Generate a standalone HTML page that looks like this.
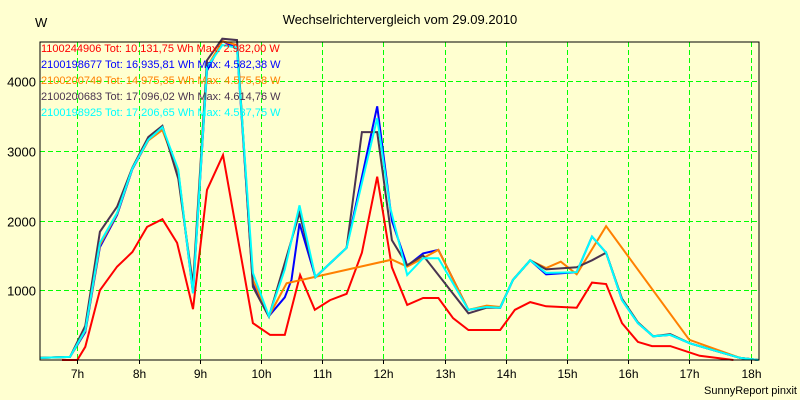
<!DOCTYPE html>
<html><head><meta charset="utf-8"><style>
html,body{margin:0;padding:0;background:#ffffd0;}
svg{display:block;font-family:"Liberation Sans",sans-serif;}
</style></head><body>
<svg id="chart" width="800" height="400" viewBox="0 0 800 400">
<rect x="0" y="0" width="800" height="400" fill="#ffffd0"/>
<text x="400" y="24" font-size="13" text-anchor="middle" fill="#000">Wechselrichtervergleich vom 29.09.2010</text>
<text x="35" y="27" font-size="13" fill="#000">W</text>
<text x="797" y="394" font-size="11" text-anchor="end" fill="#000">SunnyReport pinxit</text>
<g id="grid" shape-rendering="crispEdges"></g>
<g id="series"></g>
<rect x="40" y="42" width="719" height="318" fill="none" stroke="#000" stroke-width="1" shape-rendering="crispEdges"/>
<g id="axes"></g>
<g id="legend"></g>
</svg>
<script>
const hourTicks = [7,8,9,10,11,12,13,14,15,16,17,18];
const wattTicks = [1000,2000,3000,4000];
const seriesNames = ["1100244906","2100198677","2100200749","2100200683","2100198925"];
const legendLabels = [
 "1100244906 Tot: 10.131,75 Wh Max: 2.982,00 W",
 "2100198677 Tot: 16.935,81 Wh Max: 4.582,38 W",
 "2100200749 Tot: 14.975,35 Wh Max: 4.575,58 W",
 "2100200683 Tot: 17.096,02 Wh Max: 4.614,76 W",
 "2100198925 Tot: 17.206,65 Wh Max: 4.537,75 W"];
const seriesColors = ["#ff0000","#0000ff","#ff8000","#4a3450","#00ffff"];

const redT = [6.75,7.0,7.13,7.37,7.65,7.9,8.14,8.39,8.63,8.89,9.12,9.38,9.87,10.15,10.39,10.64,10.88,11.13,11.4,11.65,11.9,12.14,12.39,12.65,12.9,13.14,13.39,13.91,14.15,14.4,14.66,15.16,15.41,15.64,15.9,16.16,16.39,16.69,17.17,17.72];
const redW = [0,0,190,1000,1340,1550,1910,2020,1680,730,2440,2940,530,360,360,1220,720,860,950,1540,2630,1330,790,890,890,600,430,430,720,830,770,750,1110,1090,530,260,200,200,60,0];

const blueT = [6.39,6.88,7.13,7.37,7.65,7.9,8.16,8.39,8.65,8.89,9.12,9.37,9.61,9.87,10.13,10.39,10.5,10.63,10.89,11.4,11.9,12.14,12.39,12.65,12.9,13.39,13.69,13.91,14.12,14.4,14.66,15.16,15.41,15.64,15.9,16.16,16.41,16.69,17.01,17.83,18.13];
const blueW = [30,45,400,1620,2080,2740,3150,3330,2700,960,4150,4580,4470,1100,630,900,1150,1960,1190,1610,3640,2000,1350,1530,1580,720,760,750,1150,1430,1230,1260,1770,1540,860,530,340,360,240,30,0];

const orangeT = [6.39,6.88,7.13,7.37,7.65,7.9,8.16,8.39,8.65,8.89,9.12,9.37,9.61,9.87,10.13,10.42,12.14,12.39,12.9,13.39,13.69,13.91,14.12,14.4,14.66,14.9,15.16,15.64,17.0,17.83,18.13];
const orangeW = [30,45,420,1650,2100,2750,3150,3300,2700,1000,4200,4575,4520,1150,630,1100,1440,1340,1580,720,780,760,1150,1430,1320,1410,1230,1920,290,30,0];

const darkT = [6.39,6.88,7.13,7.37,7.65,7.9,8.16,8.39,8.65,8.89,9.12,9.37,9.61,9.87,10.13,10.63,10.89,11.4,11.65,11.9,12.14,12.39,12.65,13.39,13.69,13.91,14.12,14.4,14.66,15.16,15.41,15.64,15.9,16.16,16.41,16.69,17.01,17.83,18.13];
const darkW = [30,45,490,1840,2200,2760,3200,3360,2600,1080,4300,4610,4590,1050,620,2110,1190,1610,3270,3270,1720,1360,1500,670,750,750,1150,1430,1300,1330,1430,1540,880,540,340,370,240,30,0];

const cyanT = [6.39,6.88,7.13,7.37,7.65,7.9,8.16,8.39,8.65,8.89,9.12,9.37,9.61,9.87,10.13,10.39,10.63,10.89,11.4,11.9,12.11,12.39,12.65,12.9,13.39,13.69,13.91,14.12,14.4,14.66,15.16,15.41,15.64,15.9,16.16,16.41,16.69,17.01,17.83,18.13];
const cyanW = [30,45,430,1680,2110,2750,3160,3340,2730,960,4200,4520,4480,1250,630,1300,2220,1190,1610,3470,2200,1220,1460,1460,720,760,750,1150,1430,1250,1260,1770,1540,860,530,340,360,240,30,0];

const seriesT = [redT,blueT,orangeT,darkT,cyanT];
const seriesW = [redW,blueW,orangeW,darkW,cyanW];

const X0=40,X1=759,Y0=360,Y1=42;
function xScale(h){return 77.3+(h-7)*61.2;}
function yScale(w){return 360-w*0.0697;}
const NS="http://www.w3.org/2000/svg";
function mk(tag,attrs,parent){const e=document.createElementNS(NS,tag);for(const k in attrs)e.setAttribute(k,attrs[k]);parent.appendChild(e);return e;}
const grid=document.getElementById('grid'),axes=document.getElementById('axes'),ser=document.getElementById('series'),leg=document.getElementById('legend');

hourTicks.forEach(h=>{
  const x=Math.round(xScale(h))+0.5;
  if(x<X1){
    const l=mk('line',{x1:x,y1:Y1,x2:x,y2:Y0,stroke:'#00ff00','stroke-dasharray':'5,3','stroke-width':1},grid);
    
    
  }
  const tl=mk('line',{x1:x,y1:Y0,x2:x,y2:Y0+4,stroke:'#000','shape-rendering':'crispEdges'},axes);
  
  
  const t=mk('text',{x:x,y:378,'font-size':12,'text-anchor':'middle',fill:'#000'},axes);
  t.textContent=h+'h';
  
  
});
wattTicks.forEach(w=>{
  const y=Math.round(yScale(w))+0.5;
  const l=mk('line',{x1:X0,y1:y,x2:X1,y2:y,stroke:'#00ff00','stroke-dasharray':'5,3','stroke-width':1},grid);
  
  
  const t=mk('text',{x:36,y:y+5,'font-size':13,'text-anchor':'end',fill:'#000'},axes);
  t.textContent=w;
  
  
});
seriesT.forEach((ts,i)=>{
  const pts=ts.map((h,j)=>xScale(h).toFixed(1)+','+yScale(seriesW[i][j]).toFixed(1)).join(' ');
  const p=mk('polyline',{points:pts,fill:'none',stroke:seriesColors[i],'stroke-width':2,'stroke-linejoin':'miter'},ser);
  
  
});
legendLabels.forEach((s,i)=>{
  const t=mk('text',{x:41,y:52+i*16,'font-size':11,fill:seriesColors[i]},leg);
  t.textContent=s;
  
  
});
</script>
</body></html>
